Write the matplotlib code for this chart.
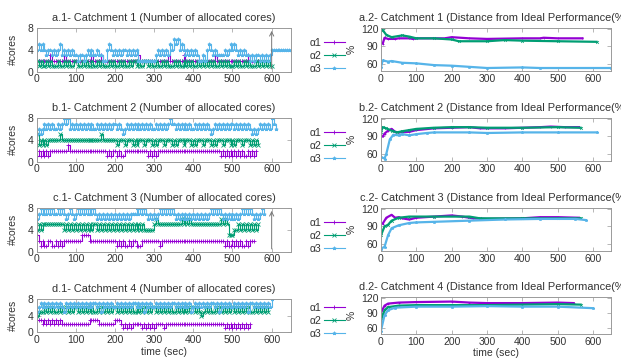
import matplotlib.pyplot as plt
from matplotlib.lines import Line2D
import numpy as np

plt.rcParams['font.family'] = ['Liberation Sans', 'DejaVu Sans']
plt.rcParams['font.size'] = 7.5

STEP = 5  # seconds between samples in the core-count traces

# number of allocated cores, one digit per sample (a..d = catchment 1..4)
cores_a_a1 = "2222222322" "2222322222" "2222222232" "2223222222" "2222222222" "2232222222" \
             "2222222322" "2222232222" "2222222222" "2322222222" "2222222232" "22222"
cores_a_a2 = "2121121211" "1211212112" "2112121121" "1212111212" "1121211212" "2121122121" \
             "1211212111" "2121121212" "1121212121" "2112121211" "1212112121" "1121212121" "1"
cores_a_a3 = "4545434434" "3453434343" "3233234343" "3433224543" "4343443434" "3422222222" \
             "2343434354" "6564543434" "3432232454" "3433334345" "4543434332" "3233232323" "44444444444"

cores_b_a1 = "1212121222" "2222223222" "2222222222" "2222221212" "2121122222" "2222222121" \
             "2122222222" "2222222222" "2222222222" "2222121212" "1212121121" "212"
cores_b_a2 = "5343434444" "4454444444" "4444444444" "4445444444" "4344434443" "4344434443" \
             "4344434443" "4344434443" "4344434443" "4344434443" "4344434443" "4343"
cores_b_a3 = "5656767676" "6767878676" "7676767676" "6767676767" "7676567676" "7676767676" \
             "6767676787" "7676767676" "6767676765" "6767676767" "7676767676" "5656767676" "876"

cores_c_a1 = "3212112211" "2121222222" "2223333222" "2222222222" "2121211212" "2111222222" \
             "2221222222" "2222222222" "2222222222" "2222221211" "2121211212" "22"
cores_c_a2 = "4545555555" "5555454545" "4545454545" "5454545454" "5454545454" "5454544444" \
             "5655555555" "5555656565" "5555555555" "5555656533" "3445454545" "4545"
cores_c_a3 = "6787878787" "7878767876" "7878787878" "7676767676" "7676767677" "7878787676" \
             "7678787878" "7676767676" "7676767678" "7878767676" "7676787878" "7676787"

cores_d_a1 = "3332323232" "3232222222" "2222222333" "3322222222" "3332121212" "2222121212" \
             "1222212222" "2222222222" "2222222222" "2222221212" "1212121212"
cores_d_a2 = "4555656565" "5656565656" "6565656565" "5656565656" "6565656565" "5656565656" \
             "6565656565" "5656565656" "6565456565" "5656565656" "6565656565" "565656565"
cores_d_a3 = "5676767676" "7676576767" "6767676767" "7675767676" "6767676767" "7676757676" \
             "6767676767" "7676767675" "6767676767" "7675767676" "6767676757" "7676767676" "8"

# distance from ideal performance (%), (time, value)
perf_a_a1 = [(5, 95), (10, 105), (20, 103), (40, 103), (50, 104), (80, 104), (90, 103), (100, 104),
             (180, 104), (200, 106), (250, 104), (300, 103), (400, 104), (450, 104), (460, 105), (500, 104), (570, 104)]
perf_a_a2 = [(0, 120), (5, 118), (15, 110), (30, 106), (60, 109), (80, 107), (100, 104), (150, 104),
             (200, 102), (220, 99), (300, 99), (350, 101), (400, 100), (500, 99), (610, 98)]
perf_a_a3 = [(0, 55), (5, 66), (20, 64), (30, 65), (60, 62), (100, 61), (150, 58), (200, 57),
             (250, 55), (300, 53), (400, 54), (450, 53), (650, 53)]

perf_b_a1 = [(5, 90), (10, 95), (20, 100), (30, 103), (40, 98), (50, 97), (80, 98), (100, 101),
             (150, 104), (200, 105), (250, 106), (280, 104), (350, 104), (400, 105), (450, 106),
             (480, 107), (520, 106), (560, 106)]
perf_b_a2 = [(0, 98), (5, 106), (15, 104), (30, 100), (45, 97), (60, 99), (80, 101), (100, 103),
             (150, 105), (200, 106), (250, 106), (300, 105), (400, 105), (500, 106), (565, 105)]
perf_b_a3 = [(0, 55), (10, 52), (15, 60), (25, 85), (35, 93), (50, 92), (60, 94), (80, 92), (100, 94),
             (130, 96), (150, 97), (250, 97), (300, 96), (400, 97), (500, 97), (610, 97)]

perf_c_a1 = [(5, 95), (15, 105), (30, 110), (40, 105), (50, 106), (60, 104), (80, 102), (100, 105),
             (150, 107), (200, 109), (230, 107), (260, 104), (300, 103), (400, 104), (450, 106),
             (500, 106), (560, 105)]
perf_c_a2 = [(0, 75), (10, 90), (20, 93), (30, 100), (50, 105), (80, 107), (150, 107), (250, 107),
             (280, 104), (400, 104), (500, 104), (565, 104)]
perf_c_a3 = [(0, 52), (10, 55), (20, 75), (30, 87), (50, 92), (80, 96), (100, 97), (150, 98),
             (250, 100), (350, 102), (450, 103), (550, 103), (580, 101)]

perf_d_a1 = [(0, 90), (10, 104), (20, 108), (50, 110), (100, 111), (200, 112), (250, 110),
             (300, 109), (400, 109), (500, 110), (545, 109)]
perf_d_a2 = [(0, 75), (10, 95), (20, 101), (50, 104), (100, 105), (200, 105), (300, 105),
             (400, 106), (500, 107), (565, 106)]
perf_d_a3 = [(0, 55), (10, 85), (20, 95), (40, 100), (100, 102), (200, 102), (300, 103),
             (400, 102), (500, 102), (600, 99)]

names = ['a', 'b', 'c', 'd']
catchments = ['Catchment 1', 'Catchment 2', 'Catchment 3', 'Catchment 4']
cores = [(cores_a_a1, cores_a_a2, cores_a_a3), (cores_b_a1, cores_b_a2, cores_b_a3),
         (cores_c_a1, cores_c_a2, cores_c_a3), (cores_d_a1, cores_d_a2, cores_d_a3)]
perf = [(perf_a_a1, perf_a_a2, perf_a_a3), (perf_b_a1, perf_b_a2, perf_b_a3),
        (perf_c_a1, perf_c_a2, perf_c_a3), (perf_d_a1, perf_d_a2, perf_d_a3)]
labels = ['α1', 'α2', 'α3']
colors = ['#9400D3', '#009E73', '#56B4E9']
markers = ['+', 'x', '*']
arrows = [True, False, True, False]

# axes boxes in figure fractions: (bottom, height)
left_rows = [(0.801, 0.121), (0.551, 0.121), (0.301, 0.121), (0.077, 0.092)]
right_rows = [(0.803, 0.118), (0.553, 0.118), (0.303, 0.118), (0.072, 0.103)]

fig = plt.figure(figsize=(6.21, 3.6), dpi=100)


def style(ax):
    for s in ax.spines.values():
        s.set_color('#9a9a9a')
        s.set_linewidth(0.7)
    ax.tick_params(direction='in', length=3, width=0.5, color='#9a9a9a',
                   top=True, right=True, labelcolor='#333333', pad=2)


for i in range(4):
    # left: allocated cores
    b, h = left_rows[i]
    ax = fig.add_axes([0.059, b, 0.410, h])
    for k in range(3):
        v = [int(c) for c in cores[i][k]]
        t = np.arange(len(v)) * STEP
        ax.plot(t, v, drawstyle='steps-post', color=colors[k], lw=0.8,
                marker=markers[k], ms=2.5, mew=0.6)
    if arrows[i]:
        ax.annotate('', xy=(600, 8), xytext=(600, 0),
                    arrowprops=dict(arrowstyle='->', color='#777777', lw=0.7))
    ax.set_xlim(0, 650)
    ax.set_ylim(0, 8)
    ax.set_xticks(range(0, 601, 100))
    ax.set_yticks([0, 4, 8])
    ax.set_title(f'{names[i]}.1- {catchments[i]} (Number of allocated cores)',
                 fontsize=7.9, color='#333333', pad=5)
    ax.set_ylabel('#cores', color='#333333')
    ax.yaxis.set_label_coords(-0.075, 0.5)
    style(ax)
    if i == 3:
        ax.set_xlabel('time (sec)', color='#333333', labelpad=1.5)

    # right: distance from ideal performance
    b, h = right_rows[i]
    ax = fig.add_axes([0.6135, b, 0.370, h])
    for k in range(3):
        t, v = zip(*perf[i][k])
        ax.plot(t, v, color=colors[k], lw=1.6, marker=markers[k], ms=2, mew=0.5)
    ax.set_xlim(0, 650)
    ax.set_ylim(48, 121)
    ax.set_xticks(range(0, 601, 100))
    ax.set_yticks([60, 90, 120])
    ax.set_title(f'{names[i]}.2- {catchments[i]} (Distance from Ideal Performance(%))',
                 fontsize=7.9, color='#333333', pad=5)
    ax.set_ylabel('%', color='#333333')
    ax.yaxis.set_label_coords(-0.108, 0.5)
    handles = [Line2D([], [], color=colors[k], lw=0.8, marker=markers[k], ms=2.5, mew=0.6)
               for k in range(3)]
    ax.legend(handles, labels, loc='center right', bbox_to_anchor=(-0.14, 0.36), frameon=False,
              markerfirst=False, handlelength=2.0, handletextpad=0.2,
              labelspacing=0.3, borderaxespad=0, fontsize=7.5, labelcolor='#333333')
    style(ax)
    if i == 3:
        ax.set_xlabel('time (sec)', color='#333333', labelpad=1.0)

plt.savefig('out.png', dpi=100)
